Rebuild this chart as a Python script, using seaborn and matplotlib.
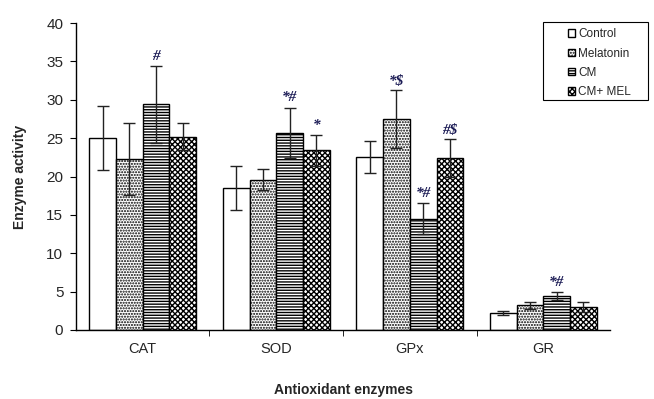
import numpy as np
import pandas as pd
import seaborn as sns
import matplotlib.pyplot as plt
from matplotlib.patches import Rectangle

enzymes = ["CAT", "SOD", "GPx", "GR"]
groups = ["Control", "Melatonin", "CM", "CM+ MEL"]

control = [25.0, 18.5, 22.6, 2.2]
melatonin = [22.3, 19.6, 27.5, 3.2]
cm = [29.4, 25.7, 14.5, 4.4]
cm_mel = [25.2, 23.4, 22.4, 3.0]

control_err = [4.2, 2.9, 2.1, 0.3]
melatonin_err = [4.7, 1.4, 3.8, 0.5]
cm_err = [5.0, 3.3, 2.0, 0.5]
cm_mel_err = [1.8, 2.0, 2.5, 0.6]

# significance marks, one per bar ("" = none)
marks_control = ["", "", "", ""]
marks_melatonin = ["", "", "*$", ""]
marks_cm = ["#", "*#", "*#", "*#"]
marks_cm_mel = ["", "*", "#$", ""]

values = [control, melatonin, cm, cm_mel]
errors = [control_err, melatonin_err, cm_err, cm_mel_err]
marks = [marks_control, marks_melatonin, marks_cm, marks_cm_mel]

df = pd.DataFrame({
    "enzyme": enzymes * 4,
    "group": np.repeat(groups, 4),
    "value": control + melatonin + cm + cm_mel,
})

sns.set_style("white")
plt.rcParams["font.family"] = ["Liberation Sans", "DejaVu Sans"]
plt.rcParams["hatch.linewidth"] = 1.0

fig = plt.figure(figsize=(6.54, 3.99), dpi=100)
ax = fig.add_axes([0.116, 0.173, 0.817, 0.769])

sns.barplot(data=df, x="enzyme", y="value", hue="group", order=enzymes,
            hue_order=groups, errorbar=None, width=0.8, ax=ax,
            palette=["white"] * 4, edgecolor="black", linewidth=1.0,
            legend=False)

hatches = ["", "......", "------", "xxxxxx"]
hatch_colors = ["black", "#666666", "#333333", "black"]

bar_containers = list(ax.containers)
for i, cont in enumerate(bar_containers):
    for j, bar in enumerate(cont):
        bar.set_hatch(hatches[i])
        if hasattr(bar, "set_hatchcolor"):
            bar.set_hatchcolor(hatch_colors[i])
        x = bar.get_x() + bar.get_width() / 2
        h = bar.get_height()
        e = errors[i][j]
        ax.errorbar(x, h, yerr=e, fmt="none", ecolor="#222222",
                    elinewidth=1.0, capsize=4, capthick=1.0, zorder=5)
        if marks[i][j]:
            ax.text(x, h + e + 0.4, marks[i][j], ha="center", va="bottom",
                    fontsize=11, fontweight="bold", fontstyle="italic",
                    family="Liberation Serif", color="#1b1b55")

ax.set_ylim(0, 40)
ax.set_xlim(-0.5, 3.5)
ax.set_yticks(range(0, 41, 5))
ax.set_xticks([0.5, 1.5, 2.5], minor=True)
ax.tick_params(axis="x", which="major", length=0, labelsize=10.5, pad=9)
ax.tick_params(axis="x", which="minor", length=4, direction="out",
               color="black", bottom=True)
ax.tick_params(axis="y", length=4, direction="out", left=True,
               labelsize=11, color="black", pad=5)

for side in ["top", "right"]:
    ax.spines[side].set_visible(False)
for side in ["left", "bottom"]:
    ax.spines[side].set_color("black")
    ax.spines[side].set_linewidth(1.0)

ax.set_ylabel("Enzyme activity", fontsize=10, fontweight="bold", labelpad=14)
ax.set_xlabel("Antioxidant enzymes", fontsize=10, fontweight="bold",
              labelpad=19)

# legend box drawn separately, entries placed inside it
fig.patches.append(Rectangle((543 / 654, 1 - 100 / 399), 105 / 654, 78 / 399,
                             transform=fig.transFigure, facecolor="white",
                             edgecolor="black", linewidth=0.8, zorder=10))
leg = fig.legend([c[0] for c in bar_containers], groups,
                 loc="upper left", bbox_to_anchor=(560 / 654, 1 - 20 / 399),
                 fontsize=8.5, frameon=False, handlelength=0.6,
                 handleheight=0.6, handletextpad=0.25, labelspacing=0.62,
                 borderpad=0.2)
leg.set_zorder(11)

fig.savefig("out.png", dpi=100)
